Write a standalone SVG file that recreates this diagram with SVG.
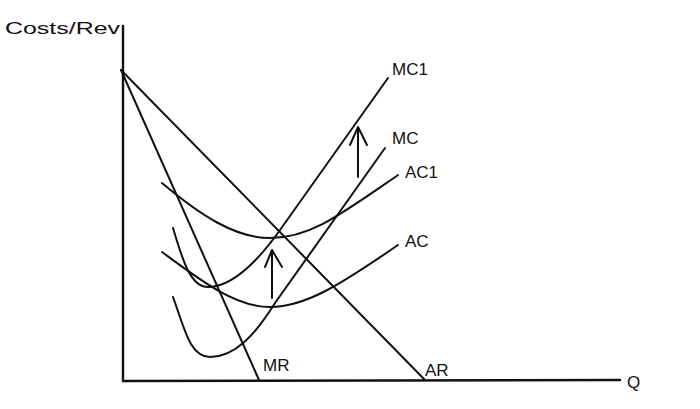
<svg xmlns="http://www.w3.org/2000/svg" width="700" height="409" viewBox="0 0 700 409">
<style>
.ln{fill:none;stroke:#111;stroke-width:2;stroke-linecap:round;stroke-linejoin:round}
.ax{fill:none;stroke:#111;stroke-width:2.4;stroke-linecap:round}
.t{font-family:"Liberation Sans",Arial,sans-serif;font-size:17px;fill:#111}
</style>
<rect width="700" height="409" fill="#fff"/>
<g id="axes">
<path class="ax" d="M123,26 L123,381 L620,380"/>
<text class="t" x="5" y="34" textLength="115" lengthAdjust="spacingAndGlyphs">Costs/Rev</text>
<text class="t" x="627" y="388">Q</text>
</g>
<g id="connectors">
<g id="AR"><path class="ln" d="M121,70 L425,380"/><text class="t" x="425" y="376">AR</text></g>
<g id="MR"><path class="ln" d="M121,70 L259,380"/><text class="t" x="263" y="371">MR</text></g>
<g id="AC1"><path class="ln" d="M162,183 C200,215 235,238 270,238 C310,238 340,215 398,175"/><text class="t" x="405" y="178">AC1</text></g>
<g id="AC"><path class="ln" d="M162,252 C200,280 235,307 270,307 C305,307 340,285 398,245"/><text class="t" x="405" y="247">AC</text></g>
<g id="MC1"><path class="ln" d="M173,228 C182,258 190,287 208,287 C230,287 255,265 280,230 L388,78"/><text class="t" x="392" y="75">MC1</text></g>
<g id="MC"><path class="ln" d="M173,297 C185,330 190,357 210,357 C235,357 255,335 275,303 L385,148"/><text class="t" x="392" y="144">MC</text></g>
<g id="arrow1"><path class="ln" d="M272,298 L272,250 M265,267 L272,250 L282,267"/></g>
<g id="arrow2"><path class="ln" d="M358,177 L358,127 M350,145 L358,127 L367,145"/></g>
</g>
</svg>
